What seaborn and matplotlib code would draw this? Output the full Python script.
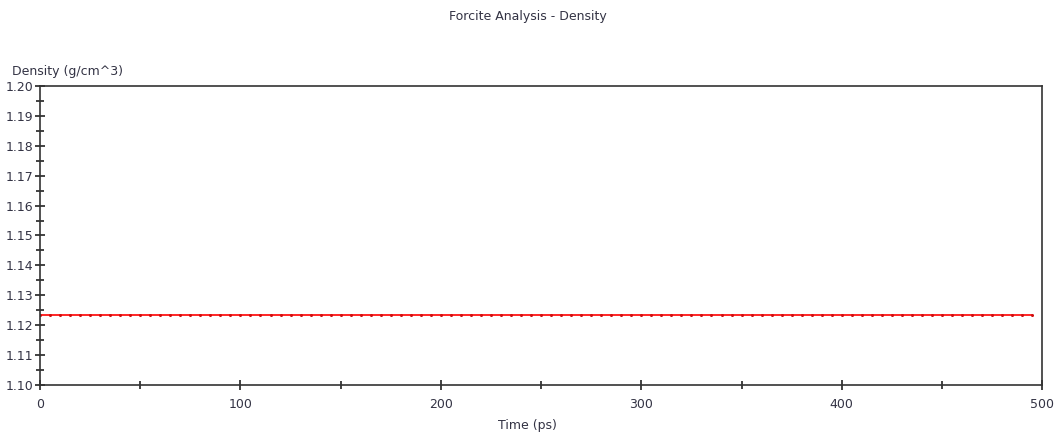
import numpy as np
import pandas as pd
import matplotlib
matplotlib.use("Agg")
import matplotlib.pyplot as plt
import seaborn as sns
from matplotlib.ticker import MultipleLocator, FormatStrFormatter

# Density trajectory: one frame every 5 ps, density holds at 1.1234 g/cm^3
time_ps = list(range(0, 500, 5))
density = [1.1234] * len(time_ps)

x_ticks = [0, 100, 200, 300, 400, 500]
y_ticks = [1.10, 1.11, 1.12, 1.13, 1.14, 1.15, 1.16, 1.17, 1.18, 1.19, 1.20]

df = pd.DataFrame({"Time (ps)": time_ps, "Density": density})

sns.set_theme(style="white")
plt.rcParams["font.family"] = ["DejaVu Sans"]

fig = plt.figure(figsize=(10.55, 4.33), dpi=100)
ax = fig.add_axes([0.0379, 0.1109, 0.95, 0.6905])

sns.lineplot(data=df, x="Time (ps)", y="Density", ax=ax, color="#ff0000",
             linewidth=1.2, marker="o", markersize=2.2, markeredgewidth=0,
             markerfacecolor="#d01010")

ax.set_xlim(0, 500)
ax.set_ylim(1.10, 1.20)
ax.set_xticks(x_ticks)
ax.set_yticks(y_ticks)
ax.xaxis.set_minor_locator(MultipleLocator(50))
ax.yaxis.set_minor_locator(MultipleLocator(0.005))
ax.yaxis.set_major_formatter(FormatStrFormatter("%.2f"))

ax.tick_params(which="both", direction="inout", colors="#222222",
               labelcolor="#333344", labelsize=9,
               bottom=True, left=True, top=False, right=False)
ax.tick_params(which="major", length=7, width=1.2)
ax.tick_params(which="minor", length=6, width=1.2)
ax.tick_params(axis="x", which="major", pad=6)
ax.tick_params(axis="y", which="major", pad=1)

for spine in ax.spines.values():
    spine.set_color("#333333")
    spine.set_linewidth(1.2)

ax.set_xlabel("")
ax.set_ylabel("")
fig.text(0.5, 0.018, "Time (ps)", fontsize=9, color="#333344",
         ha="center", va="center")
fig.text(0.0114, 0.835, "Density (g/cm^3)", fontsize=9, color="#333344",
         ha="left", va="center")
fig.text(0.5, 0.961, "Forcite Analysis - Density", fontsize=9,
         color="#333344", ha="center", va="center")

fig.savefig("out.png", dpi=100)
